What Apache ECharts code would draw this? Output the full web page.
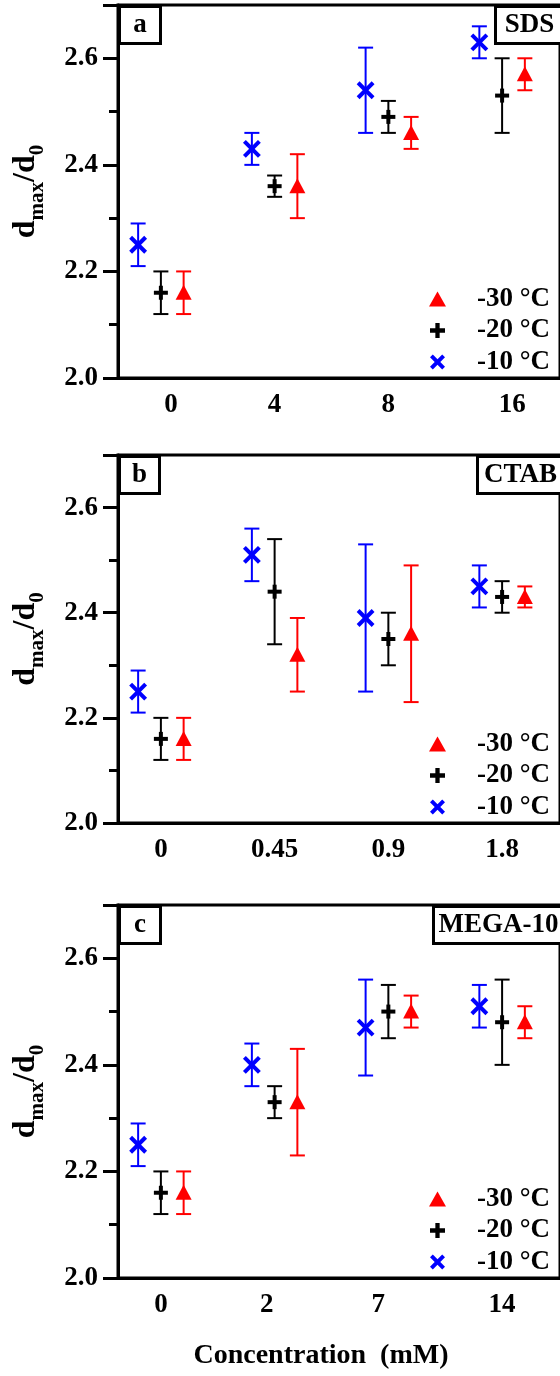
<!DOCTYPE html>
<html>
<head>
<meta charset="utf-8">
<script src="https://cdn.jsdelivr.net/npm/echarts@6/dist/echarts.min.js"></script>
<style>
html, body { margin: 0; padding: 0; background: #fff; }
#chart { width: 560px; height: 1376px; }
</style>
</head>
<body>
<div id="chart"></div>
<script>
// legend order: -30, -20, -10
const temps = ['-30 °C', '-20 °C', '-10 °C'];

// SDS (a)
const sdsConc = ['0', '4', '8', '16'];
const sdsMean30 = [2.16, 2.36, 2.46, 2.57];
const sdsErr30 = [0.04, 0.06, 0.03, 0.03];
const sdsMean20 = [2.16, 2.36, 2.49, 2.53];
const sdsErr20 = [0.04, 0.02, 0.03, 0.07];
const sdsMean10 = [2.25, 2.43, 2.54, 2.63];
const sdsErr10 = [0.04, 0.03, 0.08, 0.03];

// CTAB (b)
const ctabConc = ['0', '0.45', '0.9', '1.8'];
const ctabMean30 = [2.16, 2.32, 2.36, 2.43];
const ctabErr30 = [0.04, 0.07, 0.13, 0.02];
const ctabMean20 = [2.16, 2.44, 2.35, 2.43];
const ctabErr20 = [0.04, 0.10, 0.05, 0.03];
const ctabMean10 = [2.25, 2.51, 2.39, 2.45];
const ctabErr10 = [0.04, 0.05, 0.14, 0.04];

// MEGA-10 (c)
const megaConc = ['0', '2', '7', '14'];
const megaMean30 = [2.16, 2.33, 2.50, 2.48];
const megaErr30 = [0.04, 0.10, 0.03, 0.03];
const megaMean20 = [2.16, 2.33, 2.50, 2.48];
const megaErr20 = [0.04, 0.03, 0.05, 0.08];
const megaMean10 = [2.25, 2.40, 2.47, 2.51];
const megaErr10 = [0.04, 0.04, 0.09, 0.04];

const yTicks = [2.0, 2.2, 2.4, 2.6];

const panels = [
  { tag: 'a', name: 'SDS', conc: sdsConc, means: [sdsMean30, sdsMean20, sdsMean10], errs: [sdsErr30, sdsErr20, sdsErr10] },
  { tag: 'b', name: 'CTAB', conc: ctabConc, means: [ctabMean30, ctabMean20, ctabMean10], errs: [ctabErr30, ctabErr20, ctabErr10] },
  { tag: 'c', name: 'MEGA-10', conc: megaConc, means: [megaMean30, megaMean20, megaMean10], errs: [megaErr30, megaErr20, megaErr10] }
];

const FONT = "'Liberation Serif', 'Times New Roman', serif";
const colors = ['#ff0000', '#000000', '#0000ff'];
const dodge = [0.2, 0, -0.2];
const gridTops = [5, 455, 905];
const gridHeights = [373, 368, 373];
const tagBoxW = [41, 40, 41];
const nameBoxLeft = [494, 476, 432];
// small hand-placed shifts of the category labels, as in the original figure
const labelShift = [[0.09, 0, 0, 0.09], [0, 0, 0, 0], [0, -0.07, -0.09, 0]];

const plusPath = 'path://M5,0H9V5H14V9H9V14H5V9H0V5H5Z';
const crossPath = 'path://M0,3L3,0L8,5L13,0L16,3L11,8L16,13L13,16L8,11L3,16L0,13L5,8Z';
const legendIcons = ['triangle', plusPath, crossPath];

const chart = echarts.init(document.getElementById('chart'));

function makeRender(k) {
  return function (params, api) {
    const x = api.value(0) + dodge[k];
    const m = api.value(1);
    const e = api.value(2);
    const c = api.coord([x, m]);
    const lo = api.coord([x, m - e]);
    const hi = api.coord([x, m + e]);
    const col = colors[k];
    const bar = { stroke: col, lineWidth: 2 };
    const kids = [
      { type: 'line', shape: { x1: c[0], y1: lo[1], x2: c[0], y2: hi[1] }, style: bar },
      { type: 'line', shape: { x1: c[0] - 7.5, y1: lo[1], x2: c[0] + 7.5, y2: lo[1] }, style: bar },
      { type: 'line', shape: { x1: c[0] - 7.5, y1: hi[1], x2: c[0] + 7.5, y2: hi[1] }, style: bar }
    ];
    if (k === 0) {
      kids.push({ type: 'polygon', shape: { points: [[c[0], c[1] - 8], [c[0] - 8, c[1] + 7], [c[0] + 8, c[1] + 7]] }, style: { fill: col } });
    } else if (k === 1) {
      kids.push({ type: 'rect', shape: { x: c[0] - 7, y: c[1] - 2, width: 14, height: 4 }, style: { fill: col } });
      kids.push({ type: 'rect', shape: { x: c[0] - 2, y: c[1] - 7, width: 4, height: 14 }, style: { fill: col } });
    } else {
      const cr = { stroke: col, lineWidth: 4 };
      kids.push({ type: 'line', shape: { x1: c[0] - 7.5, y1: c[1] - 7.5, x2: c[0] + 7.5, y2: c[1] + 7.5 }, style: cr });
      kids.push({ type: 'line', shape: { x1: c[0] - 7.5, y1: c[1] + 7.5, x2: c[0] + 7.5, y2: c[1] - 7.5 }, style: cr });
    }
    return { type: 'group', children: kids };
  };
}

const grids = [], xAxes = [], yAxes = [], series = [], legends = [], graphics = [];

panels.forEach((p, pi) => {
  const labelAt = p.conc.map((c, i) => i + labelShift[pi][i]);
  grids.push({
    left: 118, width: 443, top: gridTops[pi], height: gridHeights[pi],
    show: true, borderColor: '#000', borderWidth: 3, backgroundColor: 'transparent'
  });
  xAxes.push({
    gridIndex: pi, type: 'value', min: -0.377, max: 3.509,
    splitLine: { show: false },
    axisLine: { onZero: false, lineStyle: { color: '#000', width: 3 } },
    axisTick: { show: false },
    axisLabel: {
      customValues: labelAt,
      formatter: v => p.conc[labelAt.indexOf(v)],
      color: '#000', fontFamily: FONT, fontWeight: 'bold', fontSize: 27, margin: 14
    },
    name: pi === 2 ? 'Concentration  (mM)' : '',
    nameLocation: 'middle', nameGap: 64,
    nameTextStyle: { color: '#000', fontFamily: FONT, fontWeight: 'bold', fontSize: 28, padding: [0, 36, 0, 0] }
  });
  yAxes.push({
    gridIndex: pi, type: 'value', min: 2.0, max: 2.7, interval: 0.2,
    splitLine: { show: false },
    axisLine: { onZero: false, lineStyle: { color: '#000', width: 3 } },
    axisTick: { length: 15, lineStyle: { color: '#000', width: 3 } },
    minorTick: { show: true, splitNumber: 2, length: 9, lineStyle: { color: '#000', width: 3 } },
    axisLabel: {
      customValues: yTicks,
      formatter: v => v.toFixed(1),
      color: '#000', fontFamily: FONT, fontWeight: 'bold', fontSize: 27, margin: 20
    },
    name: '{d|d}{s|max}{d|/d}{s|0}',
    nameLocation: 'middle', nameRotate: 90, nameGap: 70,
    nameTextStyle: {
      color: '#000',
      rich: {
        d: { fontFamily: FONT, fontWeight: 'bold', fontSize: 32, color: '#000', verticalAlign: 'bottom', padding: [0, 0, 6, 0] },
        s: { fontFamily: FONT, fontWeight: 'bold', fontSize: 21, color: '#000', verticalAlign: 'bottom' }
      }
    }
  });
  temps.forEach((t, k) => {
    series.push({
      type: 'custom', name: t, xAxisIndex: pi, yAxisIndex: pi,
      itemStyle: { color: colors[k] },
      renderItem: makeRender(k),
      encode: { x: 0, y: 1 },
      data: p.means[k].map((m, i) => [i, m, p.errs[k][i]])
    });
  });
  const axisY = gridTops[pi] + gridHeights[pi];
  legends.push({
    orient: 'vertical', left: 424, top: axisY - 98,
    itemWidth: 17, itemHeight: 15, itemGap: 3.5,
    selectedMode: false,
    textStyle: { color: '#000', fontFamily: FONT, fontWeight: 'bold', fontSize: 27, lineHeight: 28, padding: [0, 0, 0, 26] },
    data: temps.map((t, k) => ({ name: t, icon: legendIcons[k] }))
  });
  // panel tag box
  graphics.push({
    type: 'group', left: 118, top: gridTops[pi],
    children: [
      { type: 'rect', shape: { x: 0, y: 0, width: tagBoxW[pi], height: 37 }, style: { fill: '#fff', stroke: '#000', lineWidth: 3 } },
      { type: 'text', x: tagBoxW[pi] / 2, y: 19, style: { text: p.tag, font: 'bold 27px ' + FONT, fill: '#000', align: 'center', verticalAlign: 'middle' } }
    ]
  });
  // surfactant box
  graphics.push({
    type: 'group', left: nameBoxLeft[pi], top: gridTops[pi],
    children: [
      { type: 'rect', shape: { x: 0, y: 0, width: 570 - nameBoxLeft[pi], height: 37 }, style: { fill: '#fff', stroke: '#000', lineWidth: 3 } },
      { type: 'text', x: (560 - nameBoxLeft[pi]) / 2 + 1, y: 19, style: { text: p.name, font: 'bold 27px ' + FONT, fill: '#000', align: 'center', verticalAlign: 'middle' } }
    ]
  });
});

chart.setOption({
  animation: false,
  backgroundColor: '#fff',
  grid: grids,
  xAxis: xAxes,
  yAxis: yAxes,
  legend: legends,
  series: series,
  graphic: graphics
});
</script>
</body>
</html>
